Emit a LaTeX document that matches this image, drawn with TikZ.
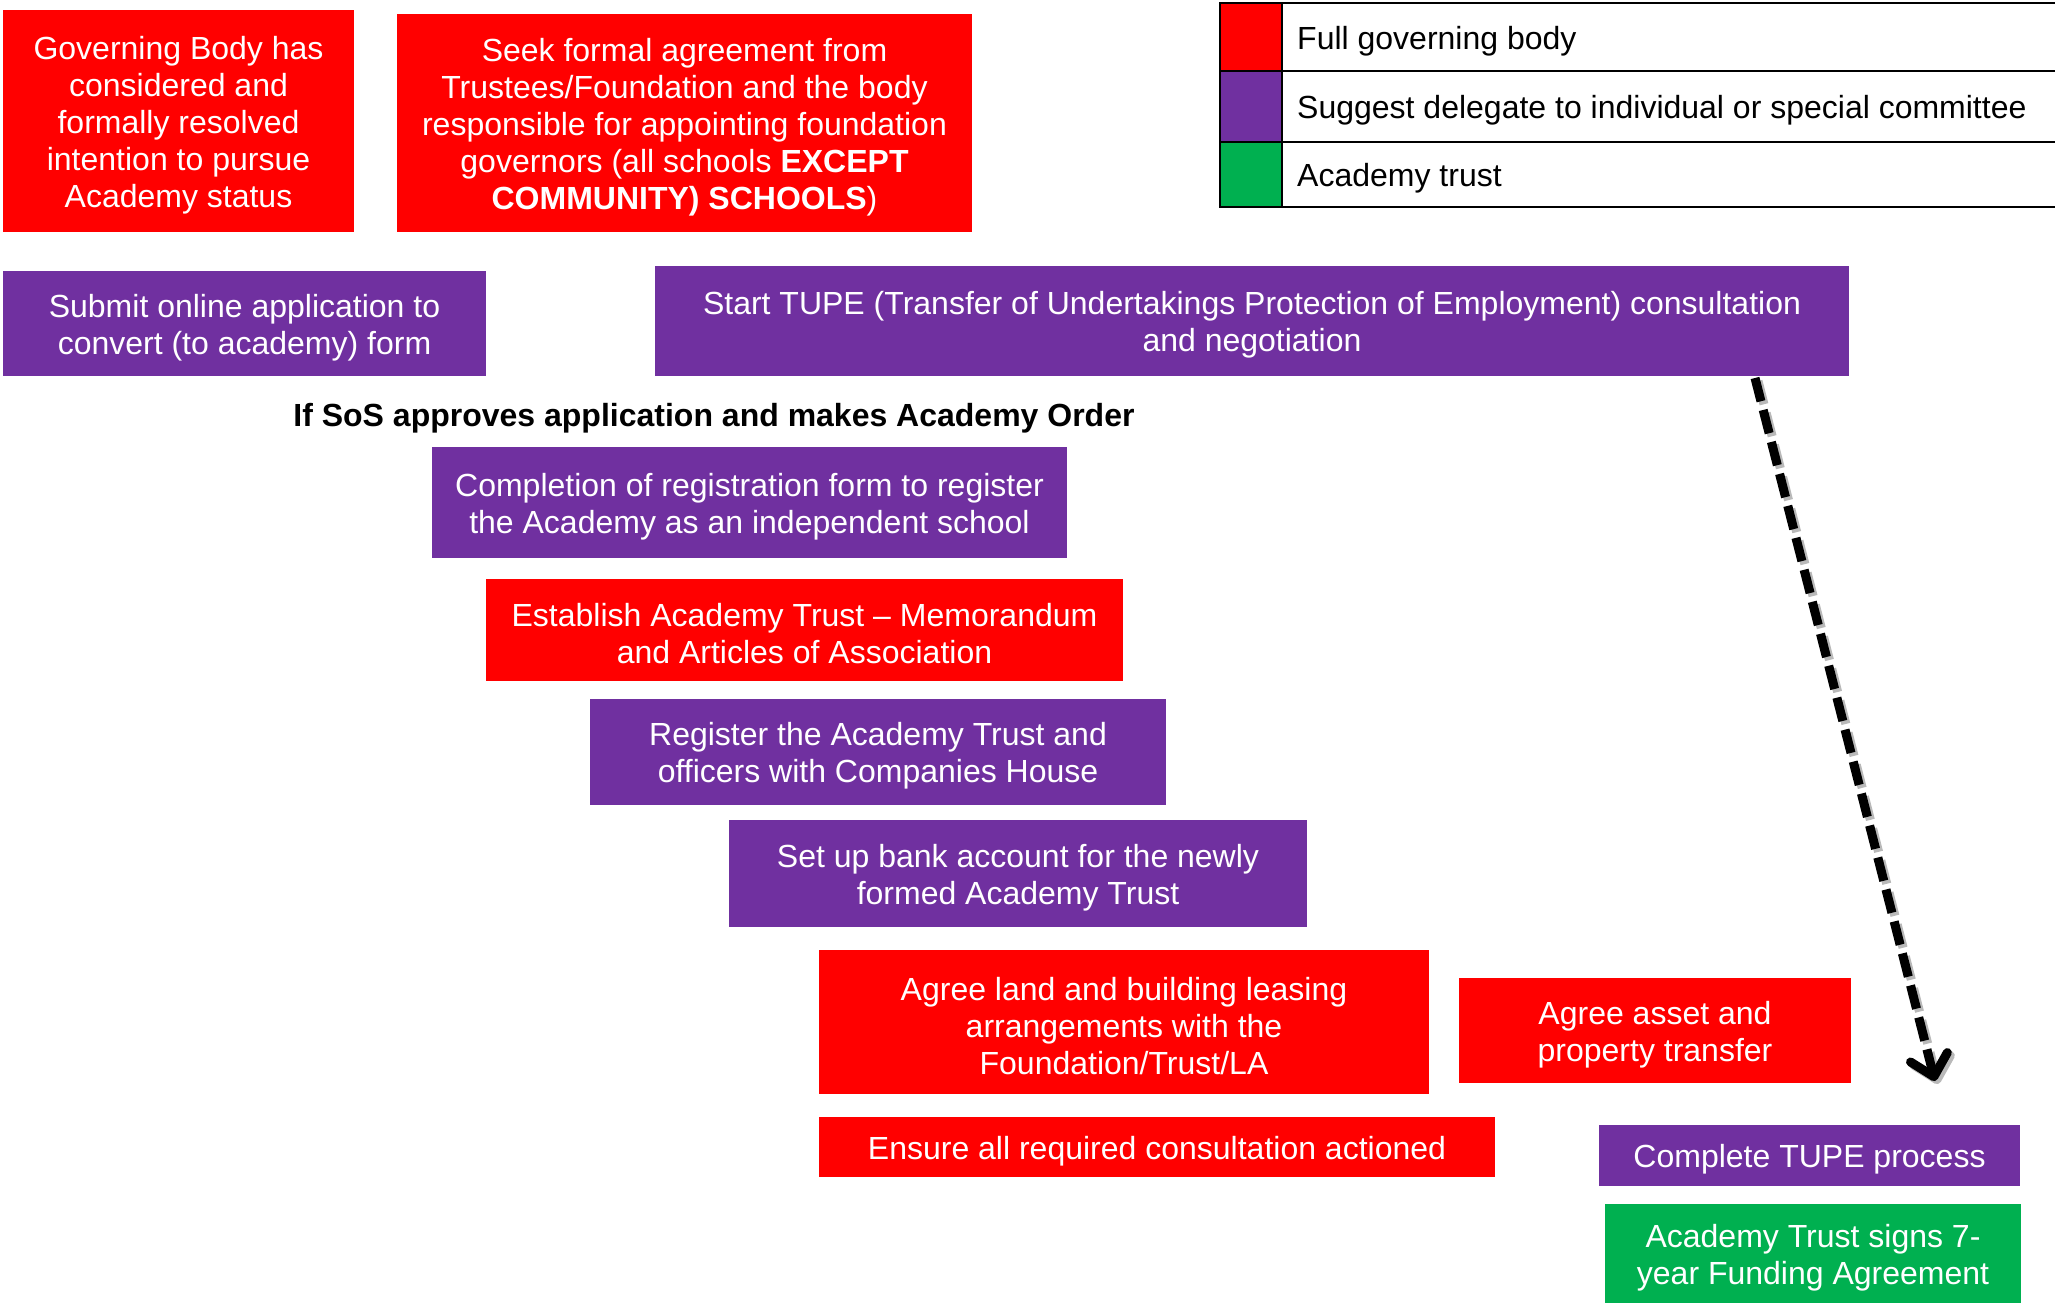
\documentclass[tikz,border=0pt]{standalone}
\usepackage{fontspec}
\setmainfont{Liberation Sans}
\usetikzlibrary{arrows.meta}
\definecolor{redc}{HTML}{FF0000}
\definecolor{purc}{HTML}{7030A0}
\definecolor{grnc}{HTML}{00B050}
\newcommand{\dnstrut}{\rule{0pt}{31pt}}
\tikzset{
  box/.style={rectangle, inner sep=0pt, align=center, text=white,
    font=\fontsize{32}{37}\selectfont},
  redbox/.style={box, fill=redc},
  purbox/.style={box, fill=purc},
  grnbox/.style={box, fill=grnc},
  legtext/.style={anchor=west, inner sep=0pt, font=\fontsize{32}{37}\selectfont},
  legline/.style={line width=2.5pt, black},
  tupearrow/.style={line width=9pt, dash pattern=on 24pt off 9pt,
    -{Straight Barb[length=20pt,width=38pt,round]}},
}
\begin{document}
\begin{tikzpicture}[x=1pt,y=-1pt]
\useasboundingbox (0,0) rectangle (2055,1303);
% legend
\fill[redc] (1220,3) rectangle (1282,71);
\fill[purc] (1220,71) rectangle (1282,142);
\fill[grnc] (1220,142) rectangle (1282,207);
\draw[legline] (2060,3) -- (1220,3) -- (1220,207) -- (2060,207);
\draw[legline] (1220,71) -- (2060,71);
\draw[legline] (1220,142) -- (2060,142);
\draw[legline] (1282,3) -- (1282,207);
\node[legtext] (l1) at (1297,41) {Full governing body};
\node[legtext] (l2) at (1297,110) {Suggest delegate to individual or special committee};
\node[legtext] (l3) at (1297,178) {Academy trust};
% boxes
\node[redbox, minimum width=351pt, minimum height=222pt] (gb) at (178.5,121)
  {\dnstrut Governing Body has\\considered and\\formally resolved\\intention to pursue\\Academy status};
\node[redbox, minimum width=575pt, minimum height=218pt] (seek) at (684.5,123)
  {\dnstrut Seek formal agreement from\\Trustees/Foundation and the body\\responsible for appointing foundation\\governors (all schools \textbf{EXCEPT}\\\textbf{COMMUNITY) SCHOOLS})};
\node[purbox, minimum width=483pt, minimum height=105pt] (submit) at (244.5,323.5)
  {\dnstrut Submit online application to\\convert (to academy) form};
\node[purbox, minimum width=1194pt, minimum height=110pt] (tupe) at (1252,321)
  {\dnstrut Start TUPE (Transfer of Undertakings Protection of Employment) consultation\\and negotiation};
\node[inner sep=0pt, font=\fontsize{32}{37}\selectfont\bfseries] (sos) at (714,418)
  {If SoS approves application and makes Academy Order};
\node[purbox, minimum width=635pt, minimum height=111pt] (compl) at (749.5,502.5)
  {\dnstrut Completion of registration form to register\\the Academy as an independent school};
\node[redbox, minimum width=637pt, minimum height=102pt] (estab) at (804.5,630)
  {\dnstrut Establish Academy Trust -- Memorandum\\and Articles of Association};
\node[purbox, minimum width=576pt, minimum height=106pt] (reg) at (878,752)
  {\dnstrut Register the Academy Trust and\\officers with Companies House};
\node[purbox, minimum width=578pt, minimum height=107pt] (bank) at (1018,873.5)
  {\dnstrut Set up bank account for the newly\\formed Academy Trust};
\node[redbox, minimum width=610pt, minimum height=144pt] (land) at (1124,1022)
  {\dnstrut Agree land and building leasing\\arrangements with the\\Foundation/Trust/LA};
\node[redbox, minimum width=392pt, minimum height=105pt] (asset) at (1655,1030.5)
  {\dnstrut Agree asset and\\property transfer};
\node[redbox, minimum width=676pt, minimum height=60pt] (ensure) at (1157,1147)
  {\dnstrut Ensure all required consultation actioned};
\node[purbox, minimum width=421pt, minimum height=61pt] (ctupe) at (1809.5,1155.5)
  {\dnstrut Complete TUPE process};
\node[grnbox, minimum width=416pt, minimum height=99pt] (fund) at (1813,1253.5)
  {\dnstrut Academy Trust signs 7-\\year Funding Agreement};
% dashed arrow
\coordinate (aS) at (1755,378);
\coordinate (aE) at (1935,1081);
\coordinate (aSs) at (1758,381);
\coordinate (aEs) at (1938,1084);
\draw[gray!55, tupearrow] (aSs) -- (aEs);
\draw[black, tupearrow] (aS) -- (aE);
\end{tikzpicture}
\end{document}
